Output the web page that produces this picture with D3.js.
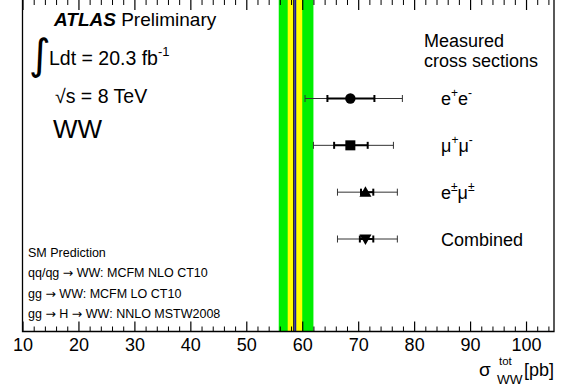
<!DOCTYPE html>
<html><head><meta charset="utf-8">
<script src="https://cdn.jsdelivr.net/npm/d3@7"></script>
<style>
html,body{margin:0;padding:0;background:#fff;overflow:hidden;}
svg{display:block;font-family:"Liberation Sans",Arial,Helvetica,sans-serif;}
</style></head><body>
<svg id="c" width="563" height="391"></svg>
<script>
// ---- data ----
const channels = ["ee", "mumu", "emu", "combined"];
const channelLabels = [
  [["e","+"],["e","-"]],
  [["\u03bc","+"],["\u03bc","-"]],
  [["e","\u00b1"],["\u03bc","\u00b1"]],
  [["Combined",""]]
];
const markers = ["circle", "square", "triangleUp", "triangleDown"];
const central = [68.6, 68.6, 71.3, 71.3];
const statLo  = [64.5, 65.7, 70.5, 70.3];
const statHi  = [72.9, 71.7, 72.7, 72.7];
const totLo   = [60.5, 62.0, 66.3, 66.3];
const totHi   = [77.9, 76.3, 77.0, 77.0];
const smCentral = 58.75;
const smAltLine = 58.45;
const smInner = [57.4, 60.0];
const smOuter = [55.8, 62.0];
const xDomain = [10, 105];
const majorTicks = [10, 20, 30, 40, 50, 60, 70, 80, 90, 100];
const smLines = [
  ["SM Prediction"],
  ["qq/qg ", "\u2192", " WW: MCFM NLO CT10"],
  ["gg ", "\u2192", " WW: MCFM LO CT10"],
  ["gg ", "\u2192", " H ", "\u2192", " WW: NNLO MSTW2008"]];

// ---- layout ----
const L = 22.5, R = 554, T = 0, B = 331.5;
const svg = d3.select("#c");
const x = d3.scaleLinear().domain(xDomain).range([L, R]);
const y = d3.scalePoint().domain(channels).range([98.5, 239]);

// SM bands
svg.append("rect").attr("x", x(smOuter[0])).attr("y", T).attr("width", x(smOuter[1]) - x(smOuter[0])).attr("height", B - T).attr("fill", "#00ee00");
svg.append("rect").attr("x", x(smInner[0])).attr("y", T).attr("width", x(smInner[1]) - x(smInner[0])).attr("height", B - T).attr("fill", "#ffff00");
svg.append("line").attr("x1", x(smAltLine)).attr("x2", x(smAltLine)).attr("y1", T).attr("y2", B).attr("stroke", "#222").attr("stroke-width", 1);
svg.append("line").attr("x1", x(smCentral)).attr("x2", x(smCentral)).attr("y1", T).attr("y2", B).attr("stroke", "#1515a8").attr("stroke-width", 2);

// axes ticks
const minor = d3.range(10, 105, 2).filter(v => v % 10);
function styleAxis(g, w) { g.select(".domain").remove(); g.selectAll("line").attr("stroke", "#000").attr("stroke-width", w); }
const gB = svg.append("g").attr("transform", `translate(0,${B})`)
  .call(d3.axisBottom(x).tickValues(majorTicks).tickSize(-10).tickPadding(7).tickFormat(d3.format("d")));
styleAxis(gB, 1.2);
gB.selectAll("text").attr("font-size", 18).attr("fill", "#000").attr("font-family", '"Liberation Sans",Arial,sans-serif');
styleAxis(svg.append("g").attr("transform", `translate(0,${B})`).call(d3.axisBottom(x).tickValues(minor).tickSize(-5).tickFormat("")), 1);
styleAxis(svg.append("g").attr("transform", `translate(0,${T})`).call(d3.axisTop(x).tickValues(majorTicks).tickSize(-10).tickFormat("")), 1.2);
styleAxis(svg.append("g").attr("transform", `translate(0,${T})`).call(d3.axisTop(x).tickValues(minor).tickSize(-5).tickFormat("")), 1);

// frame
svg.append("path").attr("d", `M${L},${T}V${B}H${R}V${T}`).attr("fill", "none").attr("stroke", "#000").attr("stroke-width", 1.3);

// axis title
svg.append("text").attr("x", 479).attr("y", 376).attr("font-size", 19).text("\u03c3");
svg.append("text").attr("x", 499).attr("y", 365).attr("font-size", 11.5).text("tot");
svg.append("text").attr("x", 497).attr("y", 384).attr("font-size", 13.5).text("WW");
svg.append("text").attr("text-anchor", "end").attr("x", R).attr("y", 376).attr("font-size", 18).text("[pb]");

// measurements
const g = svg.append("g");
channels.forEach((c, i) => {
  const yy = y(c);
  g.append("line").attr("x1", x(totLo[i])).attr("x2", x(totHi[i])).attr("y1", yy).attr("y2", yy).attr("stroke", "#333").attr("stroke-width", 1);
  [totLo[i], totHi[i]].forEach(v => g.append("line").attr("x1", x(v)).attr("x2", x(v)).attr("y1", yy - 3.5).attr("y2", yy + 3.5).attr("stroke", "#333").attr("stroke-width", 1));
  g.append("line").attr("x1", x(statLo[i])).attr("x2", x(statHi[i])).attr("y1", yy).attr("y2", yy).attr("stroke", "#000").attr("stroke-width", 2);
  [statLo[i], statHi[i]].forEach(v => g.append("line").attr("x1", x(v)).attr("x2", x(v)).attr("y1", yy - 3.5).attr("y2", yy + 3.5).attr("stroke", "#000").attr("stroke-width", 2));
  const cx = x(central[i]);
  const m = markers[i];
  if (m === "circle") g.append("circle").attr("cx", cx).attr("cy", yy).attr("r", 5.2).attr("fill", "#000");
  else if (m === "square") g.append("rect").attr("x", cx - 5).attr("y", yy - 5).attr("width", 10).attr("height", 10).attr("fill", "#000");
  else if (m === "triangleUp") g.append("path").attr("d", `M${cx - 6},${yy + 4.5}L${cx + 6},${yy + 4.5}L${cx},${yy - 6}Z`).attr("fill", "#000");
  else g.append("path").attr("d", `M${cx - 6},${yy - 4.5}L${cx + 6},${yy - 4.5}L${cx},${yy + 6}Z`).attr("fill", "#000");
  const t = g.append("text").attr("x", 441).attr("y", yy + 6.5).attr("font-size", 18);
  let shifted = false;
  channelLabels[i].forEach(([b, s]) => {
    t.append("tspan").attr("dy", shifted ? 8 : 0).text(b);
    shifted = false;
    if (s) { t.append("tspan").attr("font-size", 12).attr("dy", -8).text(s); shifted = true; }
  });
});

// header text
svg.append("text").attr("x", 424).attr("y", 47).attr("font-size", 18).text("Measured");
svg.append("text").attr("x", 424).attr("y", 67).attr("font-size", 18).text("cross sections");

const ht = svg.append("text").attr("x", 54).attr("y", 26).attr("font-size", 19);
ht.append("tspan").attr("font-weight", "bold").attr("font-style", "italic").text("ATLAS");
ht.append("tspan").text(" Preliminary");

svg.append("text").attr("x", 29).attr("y", 69).attr("font-size", 42).attr("font-family", '"DejaVu Sans",sans-serif').text("\u222b");
const lt = svg.append("text").attr("x", 49).attr("y", 65).attr("font-size", 19.5);
lt.append("tspan").text("Ldt = 20.3 fb");
lt.append("tspan").attr("font-size", 13).attr("dy", -9).text("-1");

svg.append("text").attr("x", 55).attr("y", 103).attr("font-size", 19.5).text("\u221as = 8 TeV");
svg.append("text").attr("x", 53).attr("y", 138).attr("font-size", 26).text("WW");

smLines.forEach((parts, i) => {
  const t = svg.append("text").attr("x", 28).attr("y", 257 + i * 20.3).attr("font-size", 12.5);
  parts.forEach(p => {
    const ts = t.append("tspan").text(p);
    if (p === "\u2192") ts.attr("font-family", '"DejaVu Sans",sans-serif');
  });
});
</script>
</body></html>
